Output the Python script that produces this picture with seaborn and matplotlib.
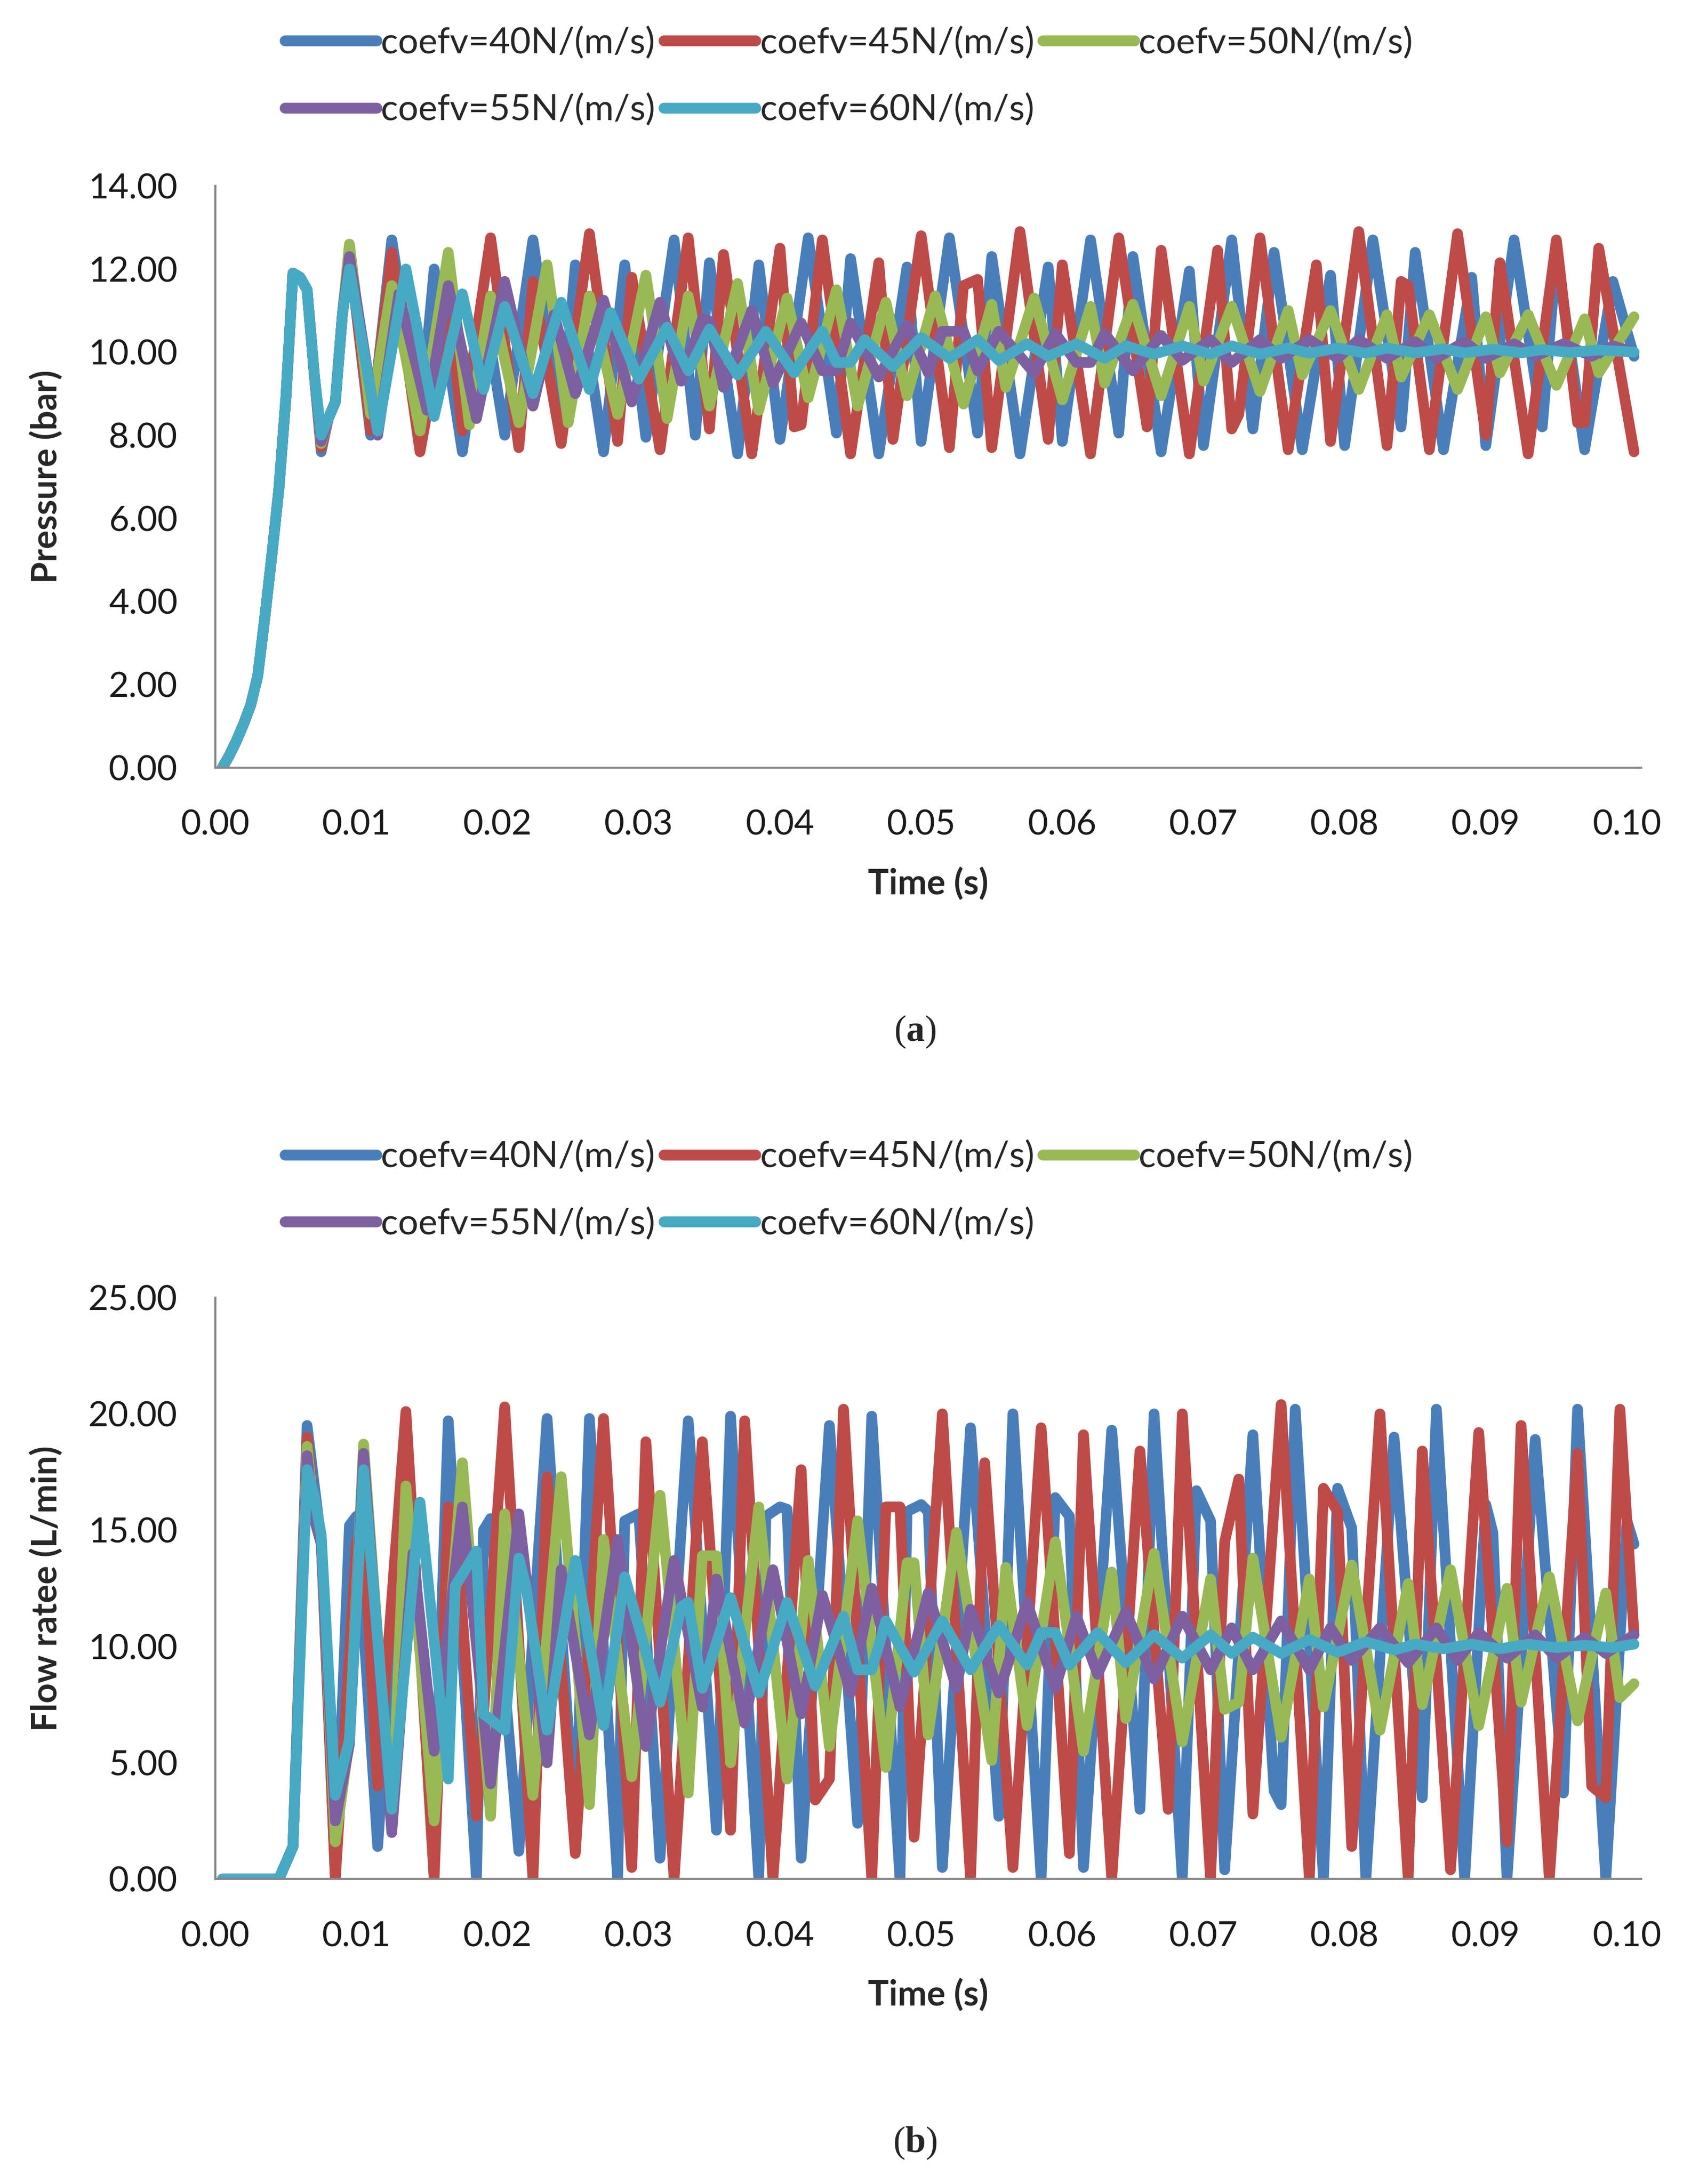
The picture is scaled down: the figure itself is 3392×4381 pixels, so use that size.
"""
Pressure and flow rate response for five damping coefficients
"""

import pandas as pd
import seaborn as sns
import matplotlib.pyplot as plt
from matplotlib.lines import Line2D

LABELS = ["coefv=40N/(m/s)", "coefv=45N/(m/s)", "coefv=50N/(m/s)",
          "coefv=55N/(m/s)", "coefv=60N/(m/s)"]
COLORS = ["#4A7EBB", "#BE4B48", "#98B954", "#7D60A0", "#46AAC5"]

X_TICKS = [0.00, 0.01, 0.02, 0.03, 0.04, 0.05, 0.06, 0.07, 0.08, 0.09, 0.10]
P_TICKS = [0, 2, 4, 6, 8, 10, 12, 14]
Q_TICKS = [0, 5, 10, 15, 20, 25]

# (time in ms, value) -- shared start of every pressure curve
P_START = [(0.5, 0.0), (1.0, 0.3), (1.5, 0.65), (2.0, 1.05), (2.5, 1.5),
           (3.0, 2.2), (3.5, 3.6), (4.0, 5.1), (4.5, 6.7), (5.0, 8.9),
           (5.5, 11.9), (6.0, 11.8), (6.5, 11.5), (7.0, 9.5)]

P40 = [(7.5, 7.6), (8.0, 8.4), (8.5, 8.8), (9.0, 10.9), (9.5, 12.4), (11.0, 8.0),
       (12.5, 12.7), (14.5, 8.3), (15.5, 12.0), (17.5, 7.6), (19.0, 11.2), (20.5, 8.0),
       (22.5, 12.7), (24.5, 8.05), (25.5, 12.1), (27.5, 7.6), (29.0, 12.1), (30.5, 7.95),
       (32.5, 12.7), (34.0, 8.0), (35.0, 12.15), (37.0, 7.55), (38.5, 12.1), (40.0, 7.9),
       (42.0, 12.75), (44.0, 8.05), (45.0, 12.25), (47.0, 7.55), (49.0, 12.05), (50.0, 7.85),
       (52.0, 12.75), (54.0, 8.05), (55.0, 12.3), (57.0, 7.55), (59.0, 12.05), (60.0, 7.85),
       (62.0, 12.7), (64.0, 8.05), (65.0, 12.3), (67.0, 7.6), (69.0, 11.95), (70.0, 7.75),
       (72.0, 12.7), (73.5, 8.15), (75.0, 12.4), (77.0, 7.65), (79.0, 11.85), (80.0, 7.75),
       (82.0, 12.7), (84.0, 8.2), (85.0, 12.4), (87.0, 7.65), (89.0, 11.8), (90.0, 7.75),
       (92.0, 12.7), (94.0, 8.2), (95.0, 12.35), (97.0, 7.65), (99.0, 11.7), (100.5, 9.9)]

P45 = [(7.5, 7.7), (8.0, 8.4), (8.5, 8.8), (9.0, 10.9), (9.5, 12.4), (11.0, 8.1),
       (12.5, 12.4), (14.5, 7.6), (16.5, 11.4), (17.5, 8.1), (19.5, 12.75), (21.5, 7.7),
       (22.5, 11.7), (24.5, 7.8), (26.5, 12.85), (28.5, 7.85), (29.5, 11.8), (31.5, 7.65),
       (33.5, 12.75), (35.0, 8.15), (36.0, 12.35), (38.0, 7.55), (40.0, 12.5), (41.0, 8.2),
       (41.5, 8.25), (43.0, 12.7), (45.0, 7.55), (47.0, 12.15), (48.0, 7.9), (50.0, 12.8),
       (52.0, 7.7), (53.0, 11.6), (54.0, 11.75), (55.0, 7.7), (57.0, 12.9), (59.0, 7.9),
       (60.0, 12.1), (62.0, 7.55), (64.0, 12.75), (66.0, 8.2), (67.0, 12.45), (69.0, 7.55),
       (71.0, 12.45), (72.0, 8.15), (72.5, 8.5), (74.0, 12.75), (76.0, 7.65), (78.0, 12.1),
       (79.0, 7.85), (81.0, 12.9), (83.0, 7.75), (84.0, 11.7), (84.5, 11.6), (86.0, 7.65),
       (88.0, 12.85), (90.0, 8.0), (91.0, 12.15), (93.0, 7.55), (95.0, 12.7), (96.5, 8.3),
       (97.0, 8.3), (98.0, 12.5), (100.5, 7.6)]

P50 = [(7.5, 7.8), (8.0, 8.4), (8.5, 8.8), (9.0, 10.9), (9.5, 12.6), (11.0, 8.5),
       (12.5, 11.6), (14.5, 8.1), (16.5, 12.4), (18.0, 8.25), (19.5, 11.35), (21.5, 8.3),
       (23.5, 12.1), (25.0, 8.3), (26.5, 11.35), (28.5, 8.5), (30.5, 11.85), (32.0, 8.4),
       (33.5, 11.35), (35.0, 8.7), (37.0, 11.65), (38.5, 8.6), (40.5, 11.3), (42.0, 8.9),
       (44.0, 11.5), (45.5, 8.7), (47.5, 11.2), (49.0, 8.95), (51.0, 11.35), (53.0, 8.75),
       (55.0, 11.15), (56.0, 9.15), (58.0, 11.3), (60.0, 8.85), (62.0, 11.1), (63.0, 9.25),
       (65.0, 11.15), (67.0, 8.95), (69.0, 11.1), (70.0, 9.3), (72.0, 11.1), (74.0, 9.05),
       (76.0, 11.0), (77.0, 9.45), (79.0, 11.0), (81.0, 9.1), (83.0, 10.9), (84.0, 9.4),
       (86.0, 10.9), (88.0, 9.1), (90.0, 10.85), (91.0, 9.5), (93.0, 10.9), (95.0, 9.2),
       (97.0, 10.8), (98.0, 9.5), (100.5, 10.85)]

P55 = [(7.5, 7.85), (8.0, 8.4), (8.5, 8.8), (9.0, 10.9), (9.5, 12.3), (11.5, 8.0),
       (13.0, 11.4), (15.0, 8.6), (16.5, 11.6), (18.5, 8.4), (20.5, 11.7), (22.5, 8.7),
       (24.0, 10.9), (25.5, 9.0), (27.5, 11.25), (29.5, 8.8), (31.5, 11.2), (33.0, 9.3),
       (34.5, 10.8), (35.0, 10.75), (36.0, 9.15), (38.0, 11.0), (39.5, 9.25), (41.5, 10.7),
       (43.0, 9.55), (44.0, 9.55), (45.0, 10.7), (47.0, 9.4), (49.0, 10.65), (50.5, 9.5),
       (51.5, 10.5), (53.0, 10.5), (54.0, 9.55), (55.5, 10.5), (58.0, 9.5), (59.5, 10.45),
       (61.0, 9.75), (62.0, 9.75), (63.0, 10.45), (65.0, 9.55), (67.0, 10.4), (68.5, 9.8),
       (70.5, 10.3), (72.0, 9.75), (74.0, 10.3), (75.5, 9.85), (77.5, 10.3), (79.5, 9.85),
       (81.0, 10.3), (83.0, 9.85), (85.0, 10.25), (86.5, 9.85), (88.5, 10.25), (90.0, 9.85),
       (92.0, 10.2), (93.5, 9.9), (95.5, 10.2), (97.5, 9.9), (99.0, 10.15), (100.5, 10.0)]

P60 = [(7.5, 8.0), (8.0, 8.4), (8.5, 8.8), (9.0, 10.9), (9.5, 12.0), (11.5, 8.1),
       (13.5, 12.0), (15.5, 8.45), (17.5, 11.4), (19.0, 9.1), (20.5, 11.1), (22.5, 9.0),
       (24.5, 11.2), (26.5, 9.1), (28.0, 10.95), (30.0, 9.35), (32.0, 10.6), (33.5, 9.55),
       (35.0, 10.55), (37.0, 9.45), (39.0, 10.5), (41.0, 9.5), (43.0, 10.5), (44.0, 9.75),
       (45.0, 9.75), (46.0, 10.3), (48.0, 9.65), (50.0, 10.35), (52.0, 9.85), (54.0, 10.3),
       (55.5, 9.8), (57.5, 10.2), (59.0, 9.9), (61.0, 10.2), (63.0, 9.85), (64.5, 10.15),
       (66.5, 9.95), (68.5, 10.15), (70.5, 9.95), (72.0, 10.15), (74.0, 9.95), (76.0, 10.1),
       (77.5, 9.97), (79.5, 10.1), (81.5, 9.97), (83.0, 10.1), (85.0, 9.98), (87.0, 10.08),
       (88.5, 9.98), (90.5, 10.07), (92.5, 9.98), (94.0, 10.06), (96.0, 9.99), (98.0, 10.05),
       (100.5, 10.0)]

# shared start of every flow curve
Q_START = [(0.5, 0.0), (1.0, 0.0), (1.5, 0.0), (2.0, 0.0), (2.5, 0.0), (3.0, 0.0),
           (3.5, 0.0), (4.0, 0.0), (4.5, 0.0), (5.0, 0.7), (5.5, 1.4)]

Q40 = [(6.5, 19.5), (7.5, 14.5), (8.5, 0.0), (9.5, 15.2), (10.0, 15.6), (11.5, 1.4),
       (13.5, 19.0), (15.5, 2.0), (16.5, 19.7), (18.5, 0.0), (19.0, 15.0), (19.5, 15.5),
       (21.5, 1.2), (23.5, 19.8), (25.5, 2.0), (26.5, 19.8), (28.5, 0.0), (29.0, 15.4),
       (30.0, 15.7), (31.5, 0.9), (33.5, 19.7), (35.5, 2.1), (36.5, 19.9), (38.5, 0.0),
       (39.0, 15.6), (40.0, 16.0), (40.5, 15.9), (41.5, 0.9), (43.5, 19.5), (45.5, 2.4),
       (46.5, 19.9), (48.5, 0.0), (49.0, 15.8), (50.0, 16.1), (50.5, 15.8), (51.5, 0.5),
       (53.5, 19.4), (55.5, 2.7), (56.5, 20.0), (58.5, 0.0), (59.5, 16.4), (60.5, 15.6),
       (61.5, 0.5), (63.5, 19.3), (65.5, 3.0), (66.5, 20.0), (68.5, 0.0), (69.5, 16.7),
       (70.5, 15.4), (71.5, 0.4), (73.5, 19.1), (75.0, 3.8), (75.5, 3.2), (76.5, 20.2),
       (78.5, 0.0), (79.5, 16.8), (80.5, 15.1), (81.5, 0.0), (83.5, 19.0), (85.5, 3.5),
       (86.5, 20.2), (88.5, 0.0), (90.0, 16.1), (90.5, 14.9), (91.5, 0.0), (93.5, 18.9),
       (95.5, 3.7), (96.5, 20.2), (98.5, 0.0), (100.0, 15.4), (100.5, 14.4)]

Q45 = [(6.5, 19.0), (7.0, 15.8), (7.5, 14.7), (8.5, 0.0), (10.0, 14.5), (10.5, 15.0),
       (11.5, 4.0), (13.5, 20.1), (15.5, 0.0), (16.5, 16.0), (17.0, 15.6), (18.5, 2.7),
       (20.5, 20.3), (22.5, 0.0), (23.5, 17.3), (25.5, 1.1), (27.5, 19.8), (29.5, 0.5),
       (30.5, 18.8), (32.5, 0.0), (34.5, 18.8), (36.5, 2.1), (37.5, 19.7), (39.5, 0.0),
       (41.5, 17.6), (42.5, 3.4), (43.5, 4.3), (44.5, 20.2), (46.5, 0.0), (47.5, 16.0),
       (48.5, 16.0), (49.5, 1.8), (51.5, 20.0), (53.5, 0.0), (54.5, 17.9), (56.5, 0.5),
       (58.5, 19.4), (60.5, 1.1), (61.5, 19.1), (63.5, 0.0), (65.5, 18.4), (67.5, 3.0),
       (68.5, 20.0), (70.5, 0.0), (71.5, 14.5), (72.5, 17.2), (73.5, 2.8), (75.5, 20.4),
       (77.5, 0.0), (78.5, 16.8), (79.5, 15.8), (80.5, 1.4), (82.5, 20.0), (84.5, 0.0),
       (85.5, 18.4), (87.5, 0.4), (89.5, 19.2), (91.5, 1.6), (92.5, 19.5), (94.5, 0.0),
       (96.5, 18.3), (97.5, 4.0), (98.5, 3.5), (99.5, 20.2), (100.5, 10.5)]

Q50 = [(6.5, 18.6), (7.0, 15.6), (7.5, 14.6), (8.5, 1.6), (9.5, 6.0), (10.5, 18.7),
       (12.5, 2.2), (13.5, 16.9), (15.5, 2.5), (17.5, 17.9), (19.5, 2.7), (20.5, 15.7),
       (22.5, 3.6), (24.5, 17.3), (26.5, 3.2), (27.5, 14.6), (29.5, 4.4), (31.5, 16.5),
       (33.5, 3.7), (34.5, 13.9), (35.5, 13.9), (36.5, 5.0), (38.5, 16.0), (40.5, 4.3),
       (42.0, 13.7), (43.5, 5.7), (45.5, 15.4), (47.5, 4.8), (49.0, 13.6), (49.5, 13.6),
       (50.5, 6.2), (52.5, 14.9), (55.0, 5.1), (56.0, 13.4), (57.5, 6.6), (59.5, 14.5),
       (61.5, 5.5), (63.5, 13.2), (64.5, 6.9), (66.5, 14.0), (68.5, 5.9), (70.5, 12.9),
       (71.5, 7.3), (72.5, 7.6), (73.5, 13.8), (75.5, 6.1), (77.5, 12.9), (78.5, 7.4),
       (80.5, 13.5), (82.5, 6.4), (84.5, 12.7), (85.5, 7.5), (87.5, 13.3), (89.5, 6.6),
       (91.5, 12.5), (92.5, 7.6), (94.5, 13.0), (96.5, 6.8), (98.5, 12.3), (99.5, 7.8),
       (100.5, 8.4)]

Q55 = [(6.5, 18.2), (7.0, 15.5), (7.5, 14.4), (8.5, 2.5), (9.5, 5.8), (10.5, 18.3),
       (12.5, 2.0), (14.0, 14.0), (15.5, 5.5), (17.5, 16.0), (19.5, 4.1), (21.5, 15.7),
       (23.5, 5.0), (24.5, 13.3), (26.5, 6.2), (28.5, 14.6), (30.5, 5.7), (32.5, 13.7),
       (34.5, 7.4), (35.5, 12.9), (37.5, 6.7), (39.5, 13.3), (41.5, 7.1), (43.0, 12.2),
       (45.0, 8.0), (46.5, 12.5), (48.5, 7.4), (50.5, 12.3), (52.5, 8.2), (53.5, 11.6),
       (55.5, 8.0), (57.5, 11.9), (59.5, 8.2), (61.0, 11.3), (62.5, 8.8), (64.5, 11.5),
       (66.5, 8.6), (68.5, 11.3), (70.5, 9.0), (72.0, 10.8), (73.5, 9.0), (75.5, 11.1),
       (77.5, 9.0), (79.0, 10.8), (80.5, 9.4), (82.5, 10.8), (84.5, 9.3), (86.5, 10.8),
       (88.0, 9.4), (89.5, 10.6), (91.5, 9.5), (93.5, 10.5), (95.0, 9.5), (97.0, 10.4),
       (98.5, 9.7), (100.5, 10.5)]

Q60 = [(6.5, 17.6), (7.0, 16.5), (7.5, 14.8), (8.5, 3.6), (9.0, 4.8), (9.5, 6.0),
       (10.5, 17.6), (12.5, 3.0), (14.5, 16.2), (16.5, 4.3), (17.0, 12.6), (18.5, 14.1),
       (19.0, 7.1), (20.5, 6.4), (21.5, 13.8), (22.0, 12.6), (23.5, 6.4), (25.5, 13.7),
       (27.5, 6.6), (29.0, 13.0), (31.5, 7.6), (33.0, 11.7), (33.5, 11.9), (34.5, 8.2),
       (36.5, 12.1), (38.5, 8.0), (40.5, 11.9), (42.5, 8.3), (44.5, 11.3), (45.5, 9.0),
       (46.5, 9.0), (47.5, 11.1), (49.5, 8.9), (51.5, 11.1), (53.5, 9.0), (55.5, 10.9),
       (57.5, 9.2), (58.5, 10.6), (59.5, 10.6), (60.5, 9.2), (62.5, 10.6), (64.5, 9.3),
       (66.5, 10.5), (68.5, 9.5), (70.5, 10.5), (72.0, 9.7), (73.5, 10.4), (75.5, 9.7),
       (77.5, 10.3), (79.5, 9.75), (81.5, 10.2), (83.5, 9.85), (85.0, 10.1), (87.0, 9.9),
       (89.0, 10.1), (91.0, 9.9), (93.0, 10.1), (95.0, 9.95), (97.0, 10.05), (99.0, 9.95),
       (100.5, 10.1)]

FONT = ["Lato", "DejaVu Sans"]
GRAY = "#868686"


def build_frame(start, curves):
    rows = []
    for label, pts in zip(LABELS, curves):
        for t_ms, val in start + pts:
            rows.append((t_ms / 1000.0, val, label))
    return pd.DataFrame(rows, columns=["time", "value", "series"])


def draw_panel(ax, df, ylabel, yticks, leg_y, tag, tag_y):
    sns.lineplot(data=df, x="time", y="value", hue="series", hue_order=LABELS,
                 palette=COLORS, estimator=None, sort=False, linewidth=5.5,
                 legend=False, ax=ax)
    ax.set_xlim(0, 0.101)
    ax.set_ylim(yticks[0], yticks[-1])
    ax.set_xticks(X_TICKS)
    ax.set_xticklabels([f"{v:.2f}" for v in X_TICKS])
    ax.set_yticks(yticks)
    ax.set_yticklabels([f"{v:.2f}" for v in yticks])
    for side in ["top", "right"]:
        ax.spines[side].set_visible(False)
    for side in ["left", "bottom"]:
        ax.spines[side].set_color(GRAY)
        ax.spines[side].set_linewidth(1.1)
    ax.tick_params(axis="both", direction="out", length=4.5, width=1.1,
                   color=GRAY, labelsize=18, labelcolor="#1a1a1a")
    ax.tick_params(axis="x", pad=17)
    ax.tick_params(axis="y", pad=15)
    ax.set_xlabel("Time (s)", fontsize=18, fontweight="bold")
    ax.set_ylabel(ylabel, fontsize=18, fontweight="bold")
    ax.xaxis.set_label_coords(0.5, -0.17)
    ax.yaxis.set_label_coords(-0.107, 0.5)

    handles = [Line2D([0], [0], color=c, lw=5.6) for c in COLORS]
    order = [0, 3, 1, 4, 2]
    fig.legend([handles[i] for i in order], [LABELS[i] for i in order],
               loc="center", bbox_to_anchor=(0.502, leg_y), ncol=3, frameon=False,
               fontsize=18.5, handlelength=2.55, handletextpad=0.12,
               columnspacing=0.25, labelspacing=0.95)
    fig.text(0.541, tag_y, tag, ha="center", va="center", fontsize=19,
             family="Liberation Serif")


sns.set_theme(style="white")
plt.rcParams["font.family"] = FONT
plt.rcParams["mathtext.fontset"] = "custom"
plt.rcParams["mathtext.bf"] = "Liberation Serif:bold"
plt.rcParams["mathtext.rm"] = "Liberation Serif"

fig = plt.figure(figsize=(3393 / 280, 4381 / 280), dpi=280)
ax_p = fig.add_axes([0.1273, 0.6485, 0.9702 - 0.1273, 0.9149 - 0.6485])
ax_q = fig.add_axes([0.1273, 0.1396, 0.9702 - 0.1273, 0.4059 - 0.1396])

press = build_frame(P_START, [P40, P45, P50, P55, P60])
flow = build_frame(Q_START, [Q40, Q45, Q50, Q55, Q60])

draw_panel(ax_p, press, "Pressure (bar)", P_TICKS, 0.965, r"($\mathbf{a}$)", 0.5275)
draw_panel(ax_q, flow, "Flow ratee (L/min)", Q_TICKS, 0.4549, r"($\mathbf{b}$)", 0.0186)

fig.savefig("out.png", dpi=280)
